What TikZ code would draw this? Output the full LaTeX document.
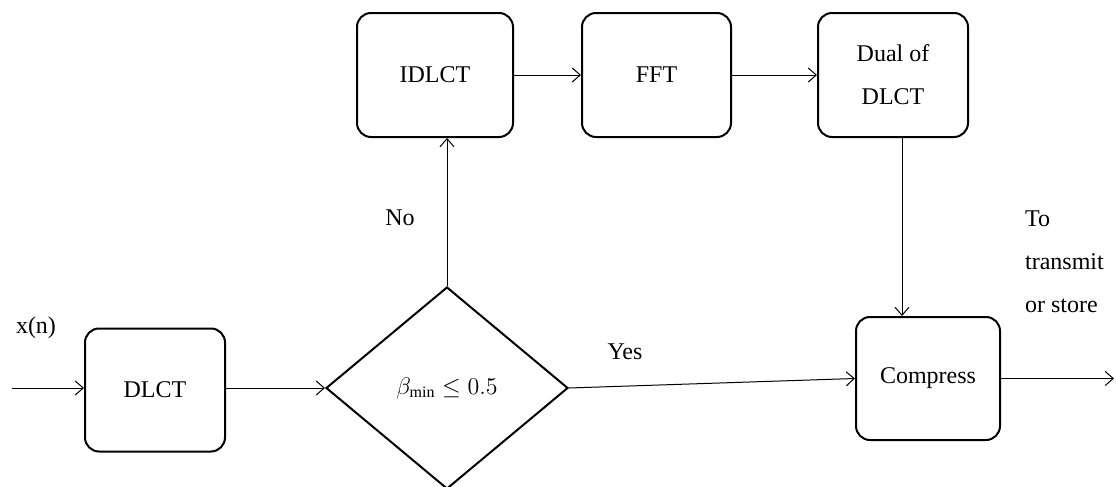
\documentclass[tikz,border=0pt]{standalone}
\usepackage{fontspec}
\setmainfont{Liberation Serif}
\usetikzlibrary{shapes.geometric,arrows.meta}

\begin{document}
\begin{tikzpicture}[x=0.5pt,y=-0.5pt,
  font=\fontsize{12}{21.5}\selectfont, line width=0.5pt,
  block/.style={draw, line width=1pt, rounded corners=7pt, align=center},
  >={Straight Barb[length=4pt,width=7pt]}]
\useasboundingbox (0,0) rectangle (1116,487);
% Nodes
\node[block, minimum width=70pt, minimum height=61.5pt] (dlct) at (155,390) {DLCT};
\node[draw, diamond, line width=1pt, inner sep=0pt, minimum width=121pt, minimum height=101pt] (dec) at (447,388) {$\beta_{\mathrm{min}} \leq 0.5$};
\node[block, minimum width=78pt, minimum height=62pt] (idlct) at (435,75) {IDLCT};
\node[block, minimum width=74.5pt, minimum height=62pt] (fft) at (656.5,75) {FFT};
\node[block, minimum width=75pt, minimum height=62pt] (dual) at (893,75) {Dual of\\DLCT};
\node[block, minimum width=72pt, minimum height=61.5pt] (cmp) at (928,378.5) {Compress};
\coordinate (in) at (12,388);
\coordinate (out) at (1114,378.5);

% Arrows
\draw[->] (in) -- (in -| dlct.west);
\draw[->] (dlct.east |- dec.west) -- (dec.west);
\draw[->] (dec.north) -- (dec.north |- idlct.south);
\draw[->] (idlct) -- (fft);
\draw[->] (fft) -- (dual);
\draw[->] ([xshift=4.5pt]dual.south) -- ([xshift=4.5pt]dual.south |- cmp.north);
\draw[->] (dec.east) -- (cmp.west);
\draw[->] (cmp.east) -- (out);

% Labels
\node (xn) at (36,328) {x(n)};
\node (no) at (400,218) {No};
\node (yes) at (625,352) {Yes};
\node[align=left, anchor=west] (dest) at (1018,262) {To\\transmit\\or store};
\end{tikzpicture}
\end{document}
